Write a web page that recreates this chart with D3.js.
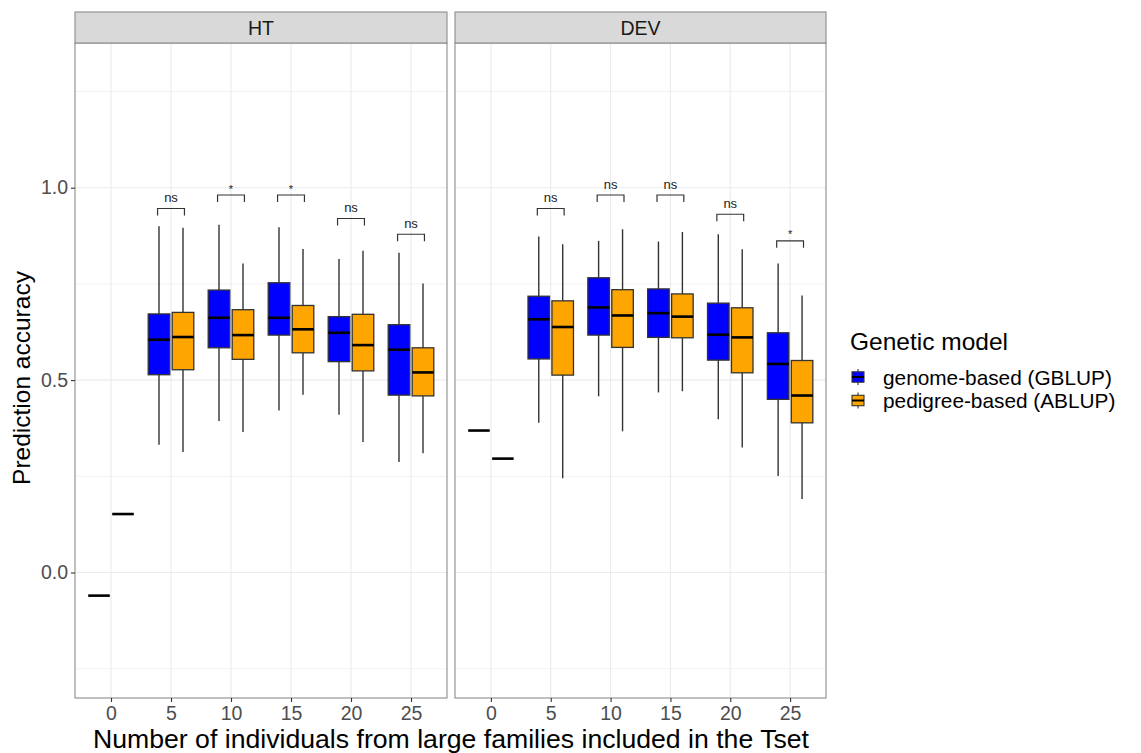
<!DOCTYPE html>
<html>
<head>
<meta charset="utf-8">
<script src="https://cdn.jsdelivr.net/npm/d3@7"></script>
<style>
  html, body { margin: 0; padding: 0; background: #fff; }
  svg { display: block; font-family: "Liberation Sans", Arial, sans-serif; }
</style>
</head>
<body>
<svg id="chart" width="1141" height="753"></svg>
<script>
// ---------------- data ----------------
const facets = ["HT", "DEV"];
const xValues = [0, 5, 10, 15, 20, 25];
const models = ["genome-based (GBLUP)", "pedigree-based (ABLUP)"];
const modelColors = ["#0000FF", "#FFA500"];
const yTickValues = [0.0, 0.5, 1.0];
const yTickLabels = ["0.0", "0.5", "1.0"];
const yMinorValues = [-0.25, 0.25, 0.75, 1.25];

// each entry: [min, q1, median, q3, max] for x = 0,5,10,15,20,25
const htGblup = [
  [-0.060, -0.060, -0.060, -0.060, -0.060],
  [0.332, 0.514, 0.605, 0.672, 0.900],
  [0.394, 0.584, 0.662, 0.734, 0.904],
  [0.421, 0.617, 0.662, 0.753, 0.897],
  [0.410, 0.548, 0.623, 0.665, 0.815],
  [0.287, 0.461, 0.579, 0.644, 0.831]
];
const htAblup = [
  [0.152, 0.152, 0.152, 0.152, 0.152],
  [0.313, 0.527, 0.612, 0.676, 0.896],
  [0.365, 0.554, 0.617, 0.683, 0.803],
  [0.462, 0.571, 0.632, 0.694, 0.841],
  [0.339, 0.524, 0.591, 0.671, 0.836],
  [0.310, 0.459, 0.520, 0.584, 0.751]
];
const devGblup = [
  [0.369, 0.369, 0.369, 0.369, 0.369],
  [0.389, 0.555, 0.658, 0.718, 0.873],
  [0.458, 0.617, 0.689, 0.766, 0.862],
  [0.468, 0.611, 0.674, 0.737, 0.860],
  [0.398, 0.552, 0.618, 0.700, 0.879],
  [0.251, 0.450, 0.542, 0.623, 0.803]
];
const devAblup = [
  [0.296, 0.296, 0.296, 0.296, 0.296],
  [0.245, 0.513, 0.638, 0.706, 0.853],
  [0.367, 0.585, 0.668, 0.735, 0.892],
  [0.471, 0.610, 0.665, 0.724, 0.885],
  [0.325, 0.519, 0.611, 0.688, 0.840],
  [0.191, 0.389, 0.460, 0.551, 0.720]
];

// significance brackets, for x = 5..25
const sigX = [5, 10, 15, 20, 25];
const htSigLabels = ["ns", "*", "*", "ns", "ns"];
const htSigY = [0.946, 0.981, 0.981, 0.920, 0.879];
const devSigLabels = ["ns", "ns", "ns", "ns", "*"];
const devSigY = [0.946, 0.981, 0.981, 0.931, 0.862];

const xAxisTitle = "Number of individuals from large families included in the Tset";
const yAxisTitle = "Prediction accuracy";
const legendTitle = "Genetic model";

// ---------------- layout ----------------
const svg = d3.select("#chart");
const panels = [
  { name: facets[0], left: 75, right: 447, series: [htGblup, htAblup], sigLabels: htSigLabels, sigY: htSigY },
  { name: facets[1], left: 455, right: 826, series: [devGblup, devAblup], sigLabels: devSigLabels, sigY: devSigY }
];
const stripTop = 12, panelTop = 43, panelBottom = 698;
const y = d3.scaleLinear().domain([-0.326, 1.376]).range([panelBottom, panelTop]);
const boxW = 1.8, dodge = 1.0;

panels.forEach((p, pi) => {
  const x = d3.scaleLinear().domain([-3, 28]).range([p.left, p.right]);
  const g = svg.append("g");

  g.append("rect").attr("x", p.left).attr("y", panelTop)
    .attr("width", p.right - p.left).attr("height", panelBottom - panelTop)
    .attr("fill", "#fff");

  // grid
  g.selectAll(".yminor").data(yMinorValues).enter().append("line")
    .attr("x1", p.left).attr("x2", p.right)
    .attr("y1", d => y(d)).attr("y2", d => y(d))
    .attr("stroke", "#f0f0f0").attr("stroke-width", 0.8);
  g.selectAll(".ymajor").data(yTickValues).enter().append("line")
    .attr("x1", p.left).attr("x2", p.right)
    .attr("y1", d => y(d)).attr("y2", d => y(d))
    .attr("stroke", "#ebebeb").attr("stroke-width", 1.1);
  g.selectAll(".xmajor").data(xValues).enter().append("line")
    .attr("x1", d => x(d)).attr("x2", d => x(d))
    .attr("y1", panelTop).attr("y2", panelBottom)
    .attr("stroke", "#ebebeb").attr("stroke-width", 1.1);

  // boxes
  p.series.forEach((ser, si) => {
    const off = si === 0 ? -dodge : dodge;
    const col = modelColors[si];
    const data = ser.map((s, i) => ({ x: xValues[i], s }));
    const bg = g.append("g");
    const bx = bg.selectAll("g.box").data(data).enter().append("g");
    bx.append("line")
      .attr("x1", d => x(d.x + off)).attr("x2", d => x(d.x + off))
      .attr("y1", d => y(d.s[4])).attr("y2", d => y(d.s[3]))
      .attr("stroke", "#333").attr("stroke-width", 1.4);
    bx.append("line")
      .attr("x1", d => x(d.x + off)).attr("x2", d => x(d.x + off))
      .attr("y1", d => y(d.s[1])).attr("y2", d => y(d.s[0]))
      .attr("stroke", "#333").attr("stroke-width", 1.4);
    bx.append("rect")
      .attr("x", d => x(d.x + off - boxW / 2))
      .attr("width", d => x(d.x + off + boxW / 2) - x(d.x + off - boxW / 2))
      .attr("y", d => y(d.s[3]))
      .attr("height", d => y(d.s[1]) - y(d.s[3]))
      .attr("fill", col).attr("stroke", "#333").attr("stroke-width", 1.3);
    bx.append("line")
      .attr("x1", d => x(d.x + off - boxW / 2)).attr("x2", d => x(d.x + off + boxW / 2))
      .attr("y1", d => y(d.s[2])).attr("y2", d => y(d.s[2]))
      .attr("stroke", "#000").attr("stroke-width", 2.6);
  });

  // significance brackets
  const sig = sigX.map((v, i) => ({ x: v, lab: p.sigLabels[i], y: p.sigY[i] }));
  const sg = g.selectAll("g.sig").data(sig).enter().append("g");
  sg.append("path")
    .attr("d", d => {
      const x1 = x(d.x - 1.12), x2 = x(d.x + 1.12), yy = y(d.y);
      return `M${x1},${yy + 7}V${yy}H${x2}V${yy + 7}`;
    })
    .attr("fill", "none").attr("stroke", "#333").attr("stroke-width", 1.2);
  sg.append("text")
    .attr("x", d => x(d.x))
    .attr("y", d => d.lab === "*" ? y(d.y) - 2.5 : y(d.y) - 6.5)
    .attr("text-anchor", "middle")
    .attr("font-size", d => d.lab === "*" ? 11 : 13)
    .attr("fill", "#222")
    .text(d => d.lab);

  // panel border
  g.append("rect").attr("x", p.left).attr("y", panelTop)
    .attr("width", p.right - p.left).attr("height", panelBottom - panelTop)
    .attr("fill", "none").attr("stroke", "#8c8c8c").attr("stroke-width", 1.1);

  // strip
  g.append("rect").attr("x", p.left).attr("y", stripTop)
    .attr("width", p.right - p.left).attr("height", panelTop - stripTop)
    .attr("fill", "#d9d9d9").attr("stroke", "#8c8c8c").attr("stroke-width", 1.1);
  g.append("text").attr("x", (p.left + p.right) / 2).attr("y", (stripTop + panelTop) / 2 + 7)
    .attr("text-anchor", "middle").attr("font-size", 19.5).attr("fill", "#1a1a1a")
    .text(p.name);

  // x axis
  const xAxis = d3.axisBottom(x).tickValues(xValues).tickSize(4).tickPadding(4).tickFormat(d3.format("d"));
  const xa = g.append("g").attr("transform", `translate(0,${panelBottom})`).call(xAxis);
  xa.select(".domain").remove();
  xa.selectAll(".tick line").attr("stroke", "#333").attr("stroke-width", 1.1);
  xa.selectAll(".tick text").attr("font-size", 19.5).attr("fill", "#4d4d4d")
    .attr("font-family", "Liberation Sans, Arial, sans-serif");

  if (pi === 0) {
    const yAxis = d3.axisLeft(y).tickValues(yTickValues).tickSize(4).tickPadding(3)
      .tickFormat((d, i) => yTickLabels[i]);
    const ya = g.append("g").attr("transform", `translate(${p.left},0)`).call(yAxis);
    ya.select(".domain").remove();
    ya.selectAll(".tick line").attr("stroke", "#333").attr("stroke-width", 1.1);
    ya.selectAll(".tick text").attr("font-size", 19.5).attr("fill", "#4d4d4d")
      .attr("font-family", "Liberation Sans, Arial, sans-serif");
  }
});

// axis titles
svg.append("text").attr("x", 451).attr("y", 748)
  .attr("text-anchor", "middle").attr("font-size", 25).attr("fill", "#000")
  .attr("textLength", 716).attr("lengthAdjust", "spacingAndGlyphs")
  .text(xAxisTitle);
svg.append("text").attr("transform", "translate(30,378) rotate(-90)")
  .attr("text-anchor", "middle").attr("font-size", 24.5).attr("fill", "#000")
  .text(yAxisTitle);

// legend
const lg = svg.append("g");
lg.append("text").attr("x", 850).attr("y", 350).attr("font-size", 24.5).attr("fill", "#000")
  .text(legendTitle);
const keys = lg.selectAll("g.key").data(models).enter().append("g")
  .attr("transform", (d, i) => `translate(852,${377 + i * 23.5})`);
keys.append("line").attr("x1", 6).attr("x2", 6).attr("y1", -8).attr("y2", 8)
  .attr("stroke", "#333").attr("stroke-width", 1.1);
keys.append("rect").attr("x", 0).attr("y", -5.2).attr("width", 12).attr("height", 10.4)
  .attr("fill", (d, i) => modelColors[i]).attr("stroke", "#333").attr("stroke-width", 1.1);
keys.append("line").attr("x1", 0).attr("x2", 12).attr("y1", 0).attr("y2", 0)
  .attr("stroke", "#000").attr("stroke-width", 2);
keys.append("text").attr("x", 31).attr("y", 7.5).attr("font-size", 20.8).attr("fill", "#000")
  .text(d => d);
</script>
</body>
</html>
